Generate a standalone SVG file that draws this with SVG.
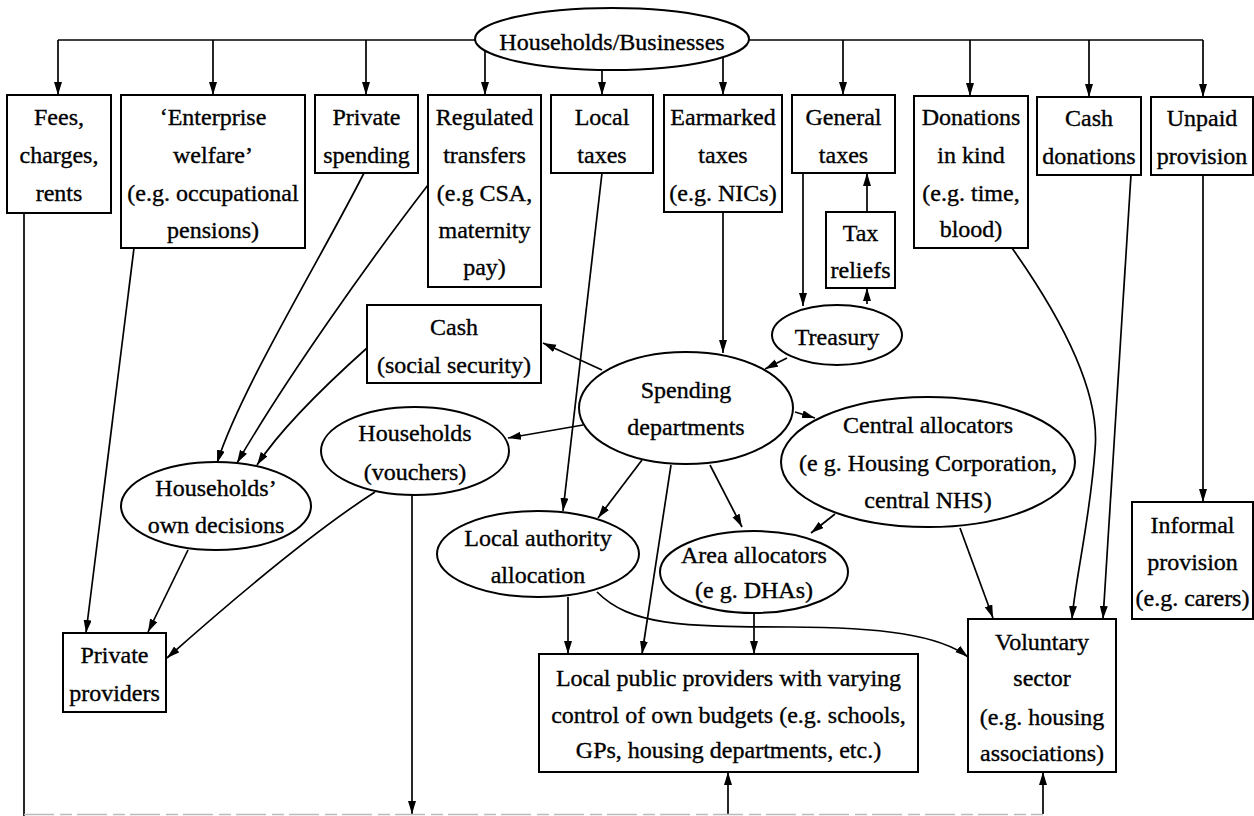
<svg xmlns="http://www.w3.org/2000/svg" width="1254" height="816" viewBox="0 0 1254 816">
<defs>
<marker id="ah" markerUnits="userSpaceOnUse" markerWidth="14" markerHeight="9" refX="13" refY="4" orient="auto">
<path d="M0,0 L13,4 L0,8 z" fill="#000"/>
</marker>
<style>
.n rect,.n ellipse{fill:#fff;stroke:#000;stroke-width:2}
.n text{font-family:"Liberation Serif","Times New Roman",serif;font-size:24px;text-anchor:middle;fill:#000;stroke:#000;stroke-width:0.35}
.c path{fill:none;stroke:#000;stroke-width:1.7}
.c .a{marker-end:url(#ah)}
</style>
</defs>
<rect width="1254" height="816" fill="#fff"/>
<g class="c" id="connectors">
<path d="M58,40 H475"/>
<path d="M748,40 H1203"/>
<path class="a" d="M58,40 V95"/>
<path class="a" d="M213,40 V95"/>
<path class="a" d="M366,40 V95"/>
<path class="a" d="M485,51 V95"/>
<path class="a" d="M602,70 V95"/>
<path class="a" d="M723,57 V95"/>
<path class="a" d="M843,40 V95"/>
<path class="a" d="M970,40 V96"/>
<path class="a" d="M1089,40 V97"/>
<path class="a" d="M1203,40 V97"/>
<path class="a" d="M867,212 V173"/>
<path class="a" d="M867,304 V288"/>
<path class="a" d="M803,173 V306"/>
<path class="a" d="M787,358 L765,369"/>
<path class="a" d="M723,212 V353"/>
<path class="a" d="M602,370 L543,343"/>
<path class="a" d="M583,425 L508,438"/>
<path class="a" d="M364,173 C320,260 240,390 217,463"/>
<path class="a" d="M428,185 C370,260 285,380 237,463"/>
<path class="a" d="M367,348 C320,390 280,430 257,465"/>
<path class="a" d="M188,550 L148,632"/>
<path class="a" d="M134,248 L86,633"/>
<path class="a" d="M375,492 Q300,540 167,658"/>
<path class="a" d="M412,495 V814"/>
<path d="M24,213 V816"/>
<path class="a" d="M602,173 L563,511"/>
<path class="a" d="M642,460 L598,518"/>
<path class="a" d="M671,465 L642,654"/>
<path class="a" d="M710,465 L742,527"/>
<path class="a" d="M795,412 L815,418"/>
<path class="a" d="M835,514 L811,533"/>
<path class="a" d="M960,528 L993,618"/>
<path class="a" d="M568,597 V654"/>
<path class="a" d="M754,613 V654"/>
<path class="a" d="M597,592 C630,625 680,627 790,627 C880,627 940,635 968,657"/>
<path class="a" d="M1012,248 C1070,330 1100,400 1095,450 C1090,520 1075,580 1072,619"/>
<path class="a" d="M1131,175 L1103,619"/>
<path class="a" d="M1203,175 V502"/>
<path class="a" d="M728,814 V772"/>
<path class="a" d="M1043,814 V772"/>
<path d="M24,814.5 H1043" style="stroke:#bbb;stroke-width:1.5;stroke-dasharray:30 6 12 5"/>
</g>
<g class="n" id="hb"><ellipse cx="612" cy="39" rx="137" ry="31"/><text x="612" y="50">Households/Businesses</text></g>
<g class="n" id="fees"><rect x="7" y="95" width="104" height="118"/><text x="59" y="125">Fees,</text><text x="59" y="163">charges,</text><text x="59" y="201">rents</text></g>
<g class="n" id="enterprise"><rect x="121" y="95" width="184" height="153"/><text x="213" y="125">‘Enterprise</text><text x="213" y="163">welfare’</text><text x="213" y="201">(e.g. occupational</text><text x="213" y="238">pensions)</text></g>
<g class="n" id="privspend"><rect x="315" y="95" width="103" height="78"/><text x="366.5" y="125">Private</text><text x="366.5" y="163">spending</text></g>
<g class="n" id="regulated"><rect x="428" y="95" width="113" height="192"/><text x="484.5" y="125">Regulated</text><text x="484.5" y="163">transfers</text><text x="484.5" y="201">(e.g  CSA,</text><text x="484.5" y="238">maternity</text><text x="484.5" y="275">pay)</text></g>
<g class="n" id="localtax"><rect x="551" y="95" width="102" height="78"/><text x="602" y="125">Local</text><text x="602" y="163">taxes</text></g>
<g class="n" id="earmarked"><rect x="664" y="95" width="118" height="117"/><text x="723" y="125">Earmarked</text><text x="723" y="163">taxes</text><text x="723" y="201">(e.g. NICs)</text></g>
<g class="n" id="general"><rect x="792" y="95" width="103" height="78"/><text x="843.5" y="125">General</text><text x="843.5" y="163">taxes</text></g>
<g class="n" id="reliefs"><rect x="826" y="212" width="69" height="76"/><text x="860.5" y="241">Tax</text><text x="860.5" y="278">reliefs</text></g>
<g class="n" id="kind"><rect x="914" y="96" width="114" height="152"/><text x="971" y="125">Donations</text><text x="971" y="163">in kind</text><text x="971" y="201">(e.g. time,</text><text x="971" y="237">blood)</text></g>
<g class="n" id="cashdon"><rect x="1037" y="97" width="104" height="78"/><text x="1089" y="126">Cash</text><text x="1089" y="164">donations</text></g>
<g class="n" id="unpaid"><rect x="1151" y="97" width="102" height="78"/><text x="1202" y="126">Unpaid</text><text x="1202" y="164">provision</text></g>
<g class="n" id="treasury"><ellipse cx="837" cy="335" rx="65" ry="30"/><text x="837" y="345">Treasury</text></g>
<g class="n" id="cash"><rect x="367" y="305" width="174" height="78"/><text x="454" y="335">Cash</text><text x="454" y="373">(social security)</text></g>
<g class="n" id="spending"><ellipse cx="686" cy="408" rx="107" ry="56"/><text x="686" y="398">Spending</text><text x="686" y="435">departments</text></g>
<g class="n" id="vouchers"><ellipse cx="415" cy="451" rx="94" ry="44"/><text x="415" y="441">Households</text><text x="415" y="480">(vouchers)</text></g>
<g class="n" id="owndec"><ellipse cx="216" cy="506" rx="95" ry="44"/><text x="216" y="496">Households’</text><text x="216" y="533">own decisions</text></g>
<g class="n" id="central"><ellipse cx="928" cy="462" rx="147" ry="65"/><text x="928" y="433">Central allocators</text><text x="928" y="471">(e g. Housing Corporation,</text><text x="928" y="508">central NHS)</text></g>
<g class="n" id="la"><ellipse cx="538" cy="554" rx="101" ry="43"/><text x="538" y="546">Local authority</text><text x="538" y="583">allocation</text></g>
<g class="n" id="area"><ellipse cx="754" cy="572" rx="94" ry="41"/><text x="754" y="563">Area allocators</text><text x="754" y="598">(e g. DHAs)</text></g>
<g class="n" id="informal"><rect x="1132" y="502" width="121" height="117"/><text x="1192.5" y="533">Informal</text><text x="1192.5" y="570">provision</text><text x="1192.5" y="606">(e.g. carers)</text></g>
<g class="n" id="private"><rect x="63" y="633" width="103" height="79"/><text x="114.5" y="663">Private</text><text x="114.5" y="701">providers</text></g>
<g class="n" id="localpub"><rect x="539" y="654" width="379" height="118"/><text x="728.5" y="686">Local public providers with varying</text><text x="728.5" y="723">control of own budgets (e.g. schools,</text><text x="728.5" y="758">GPs, housing departments, etc.)</text></g>
<g class="n" id="voluntary"><rect x="968" y="619" width="148" height="153"/><text x="1042" y="650">Voluntary</text><text x="1042" y="686">sector</text><text x="1042" y="725">(e.g. housing</text><text x="1042" y="761">associations)</text></g>
</svg>
